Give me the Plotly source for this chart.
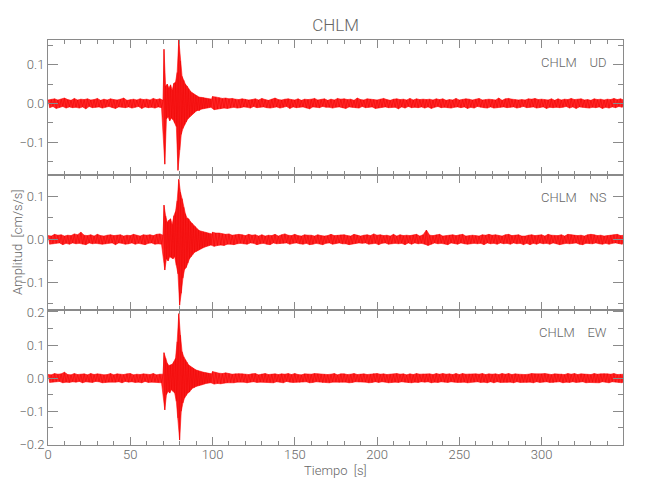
import numpy as np
import plotly.graph_objects as go

# ---- sampling of the three pieces of each trace: (start [s], step [s]) ----
SEG_START = [0.0, 70.0, 100.0]
SEG_STEP = [1.0, 0.5, 1.0]
UNIT = 1e-3  # values below are in thousandths of cm/s/s (positive = upper swing, negative = lower swing)

title = "CHLM"
components = ["UD", "NS", "EW"]
station = "CHLM"
x_title = "Tiempo\u00a0\u00a0[s]"
y_title = "Amplitud\u00a0\u00a0[cm/s/s]"

# ---------------- UD ----------------
ud_pre = [9,-11,10,-8,12,-13,9,-10,11,-8, 14,-12,10,-9,8,-11,13,-10,9,-12,
          11,-9,10,-14,12,-8,9,-11,10,-10, 13,-9,8,-12,11,-10,9,-8,12,-11,
          10,-13,9,-9,11,-10,14,-11,8,-9, 10,-12,11,-10,9,-8,12,-13,10,-9,
          11,-11,9,-10,13,-12,10,-9,12,-11]
ud_evt = [8,140,-157,45,-40,50,-35,40,-45,48,
          -38,35,-42,52,-50,55,-60,80,-173,165,
          -120,110,-80,70,-65,60,-55,50,-48,45,
          -40,38,-35,32,-30,28,-27,25,-24,22,
          -20,20,-18,17,-18,16,-15,16,-14,15,
          -13,14,-12,13,-12,12,-11,12,-10,11]
ud_post = [18,-16,17,-14,15,-14,13,-12,14,-13, 12,-11,13,-10,11,-12,10,-11,12,-9,
           11,-10,9,-12,10,-8,12,-11,9,-10, 13,-9,10,-11,8,-12,11,-10,14,-9,
           10,-12,9,-10,11,-8,12,-13,10,-9, 9,-11,12,-10,8,-9,11,-12,10,-14,
           11,-9,13,-10,9,-11,10,-8,12,-10, 8,-10,11,-12,9,-10,13,-9,11,-11,
           12,-13,10,-9,11,-10,8,-11,14,-12, 10,-8,9,-11,12,-10,11,-9,10,-13,
           9,-12,11,-10,13,-9,10,-11,8,-10, 11,-10,12,-14,10,-9,11,-12,9,-8,
           13,-11,9,-10,12,-11,10,-9,11,-12, 10,-9,11,-13,9,-10,12,-8,10,-11,
           12,-10,8,-11,10,-12,9,-10,13,-9, 9,-11,10,-9,12,-13,11,-10,9,-12,
           11,-8,13,-10,9,-11,10,-12,11,-9, 10,-12,9,-11,14,-10,8,-9,12,-11,
           13,-10,11,-9,10,-12,9,-11,10,-8, 9,-11,12,-10,11,-9,13,-12,10,-11,
           11,-9,10,-13,9,-10,12,-11,8,-10, 12,-11,9,-10,11,-8,10,-12,13,-9,
           10,-13,11,-9,12,-10,9,-11,10,-12, 8,-10,12,-11,10,-9,11,-13,9,-10,
           11,-12,10,-9,13,-11,10,-8,12,-10, 9]

# ---------------- NS ----------------
ns_pre = [9,-11,8,-10,12,-9,10,-8,11,-12, 8,-9,10,-11,9,-8,13,-10,11,-9,
          17,-11,10,-12,9,-8,11,-10,8,-9, 12,-10,9,-11,8,-10,10,-9,11,-8,
          9,-12,10,-8,11,-9,8,-11,10,-10, 9,-8,12,-11,10,-9,8,-10,11,-12,
          10,-9,11,-8,9,-11,12,-10,13,-11]
ns_evt = [10,80,-71,55,-45,40,-50,45,-40,48,
          -42,35,-45,55,-40,65,-60,90,-80,140,
          -153,110,-125,95,-90,75,-70,60,-65,50,
          -55,48,-45,42,-40,38,-35,32,-30,30,
          -28,25,-26,22,-24,20,-22,19,-20,18,
          -18,17,-16,16,-15,15,-14,14,-13,13]
ns_post = [17,-16,15,-14,15,-13,13,-14,12,-11, 13,-11,10,-12,11,-10,12,-9,11,-10,
           9,-11,12,-8,10,-9,11,-12,8,-10, 11,-9,8,-11,10,-12,9,-8,12,-10,
           8,-10,11,-9,13,-8,10,-11,9,-9, 12,-8,9,-10,8,-11,11,-9,10,-12,
           10,-11,8,-9,11,-10,9,-12,8,-9, 9,-8,12,-11,9,-9,10,-8,11,-10,
           11,-10,9,-12,8,-10,12,-9,10,-8, 8,-9,10,-8,11,-11,9,-10,13,-9,
           10,-12,11,-9,9,-8,10,-11,8,-10, 12,-9,8,-10,11,-9,9,-12,10,-8,
           9,-11,10,-8,12,-10,8,-9,11,-11, 22,-14,10,-11,9,-8,11,-10,12,-9,
           8,-10,9,-12,10,-8,11,-9,9,-11, 11,-8,12,-10,8,-11,9,-10,10,-9,
           9,-10,8,-9,11,-12,10,-8,12,-10, 10,-9,11,-11,9,-8,8,-10,11,-9,
           12,-11,9,-8,10,-10,11,-9,8,-12, 8,-9,10,-12,11,-9,9,-11,10,-8,
           11,-10,8,-9,12,-11,10,-8,9,-10, 9,-12,11,-10,8,-9,12,-10,11,-9,
           10,-8,9,-11,10,-12,8,-9,11,-10, 12,-10,11,-8,9,-10,10,-11,8,-9,
           9,-11,10,-9,11,-8,12,-10,9,-11, 10]

# ---------------- EW ----------------
ew_pre = [11,-13,10,-12,14,-11,12,-10,13,-14, 18,-12,11,-13,10,-11,14,-12,11,-10,
          12,-14,13,-11,10,-12,14,-13,11,-10, 13,-11,12,-14,10,-13,11,-12,14,-11,
          10,-12,13,-11,12,-14,11,-10,13,-12, 14,-11,10,-13,12,-12,11,-14,13,-10,
          12,-13,11,-12,14,-11,10,-13,12,-14]
ew_evt = [12,77,-96,60,-50,45,-40,38,-45,40,
          -35,42,-40,50,-45,60,-70,110,-120,195,
          -187,130,-100,80,-75,65,-60,55,-52,48,
          -45,40,-42,36,-35,32,-30,30,-28,26,
          -25,24,-23,22,-22,20,-21,19,-19,18,
          -18,17,-16,16,-15,15,-14,14,-14,13]
ew_post = [20,-18,17,-16,15,-17,14,-15,16,-14, 14,-13,12,-14,13,-12,14,-11,13,-12,
           12,-14,11,-12,13,-11,14,-13,10,-12, 13,-11,14,-12,11,-13,12,-14,13,-11,
           11,-12,13,-14,12,-10,14,-12,11,-13, 14,-12,11,-13,10,-12,13,-11,12,-14,
           12,-13,14,-11,13,-12,11,-14,12,-13, 11,-14,12,-12,14,-11,10,-13,13,-12,
           13,-12,11,-14,12,-13,14,-11,11,-12, 12,-11,13,-12,11,-14,12,-13,14,-11,
           14,-13,12,-11,13,-12,11,-14,12,-13, 11,-12,14,-13,12,-11,13,-12,10,-14,
           13,-14,11,-12,14,-13,12,-11,13,-12, 12,-11,13,-14,11,-12,14,-13,12,-11,
           14,-12,12,-13,13,-11,11,-12,14,-13, 11,-13,14,-12,12,-14,13,-11,12,-12,
           13,-11,12,-13,14,-12,11,-14,13,-11, 12,-14,13,-11,11,-13,14,-12,12,-13,
           14,-12,11,-14,13,-11,12,-13,11,-12, 11,-13,12,-12,14,-14,13,-11,12,-13,
           13,-12,14,-11,12,-13,11,-14,13,-12, 12,-11,13,-14,11,-12,14,-13,12,-11,
           14,-13,11,-12,13,-11,12,-14,11,-13, 11,-12,14,-13,12,-14,13,-11,14,-12,
           13,-14,12,-11,14,-12,11,-13,12,-14, 12]

x_range = [0, 349.5]
y_ranges = [[-0.185, 0.164], [-0.164, 0.150], [-0.202, 0.206]]
y_ticks = [[-0.1, 0.0, 0.1], [-0.1, 0.0, 0.1], [-0.2, -0.1, 0.0, 0.1, 0.2]]


def build(pre, evt, post):
    t, v = [], []
    for start, step, seg in zip(SEG_START, SEG_STEP, (pre, evt, post)):
        t.extend((start + step * np.arange(len(seg))).tolist())
        v.extend((np.array(seg, dtype=float) * UNIT).tolist())
    return np.array(t), np.array(v)


traces = [build(ud_pre, ud_evt, ud_post),
          build(ns_pre, ns_evt, ns_post),
          build(ew_pre, ew_evt, ew_post)]

FONT = "Roboto, Liberation Sans, sans-serif"
FW = 300
AXC = "#8a8a8a"
TXC = "#666666"

fig = go.Figure()
domains = [[2/3, 1.0], [1/3, 2/3], [0.0, 1/3]]

for i, (t, v) in enumerate(traces):
    n = "" if i == 0 else str(i + 1)
    up = v > 0
    lo = v < 0
    # band between the upper swings and the lower swings of the trace
    bx = np.concatenate([t[up], t[lo][::-1]])
    by = np.concatenate([v[up], v[lo][::-1]])
    fig.add_trace(go.Scatter(x=bx, y=by, mode="lines", fill="toself",
                             fillcolor="rgba(255,20,20,0.92)",
                             xaxis="x" + n, yaxis="y" + n,
                             line=dict(color="rgba(255,0,0,0.55)", width=1),
                             showlegend=False, hoverinfo="skip"))
    fig.add_trace(go.Scatter(x=t, y=v, mode="lines", xaxis="x" + n, yaxis="y" + n,
                             line=dict(color="rgba(235,0,0,0.8)", width=0.6),
                             showlegend=False, hoverinfo="skip"))
    fig.update_layout(**{
        "xaxis" + n: dict(domain=[0, 1], range=x_range, anchor="y" + n,
                          showline=True, linecolor=AXC, linewidth=1, mirror="ticks",
                          ticks="inside", ticklen=8, tickcolor=AXC, tickwidth=1,
                          tick0=0, dtick=50, showticklabels=(i == 2),
                          ticklabelstandoff=-3,
                          minor=dict(dtick=10, ticklen=4, ticks="inside", tickcolor=AXC),
                          showgrid=False, zeroline=False,
                          tickfont=dict(family=FONT, weight=FW, size=13, color=TXC)),
        "yaxis" + n: dict(domain=domains[i], range=y_ranges[i], anchor="x" + n,
                          showline=True, linecolor=AXC, linewidth=1, mirror="ticks",
                          ticks="inside", ticklen=10, tickcolor=AXC, tickwidth=1,
                          tickvals=y_ticks[i], tickformat=".1f",
                          minor=dict(dtick=0.05, tick0=0, ticklen=5, ticks="inside", tickcolor=AXC),
                          showgrid=False, zeroline=False,
                          tickfont=dict(family=FONT, weight=FW, size=13, color=TXC)),
    })
    fig.add_annotation(text=station + "\u00a0\u00a0\u00a0\u00a0" + components[i],
                       xref="x" + n + " domain", yref="y" + n + " domain",
                       x=0.975, y=0.835, xanchor="right", yanchor="middle",
                       showarrow=False, font=dict(family=FONT, weight=FW, size=13, color=TXC))

fig.add_annotation(text=y_title, xref="paper", yref="paper", x=-0.053, y=0.5,
                   textangle=-90, xanchor="center", yanchor="middle", showarrow=False,
                   font=dict(family=FONT, weight=FW, size=13, color=TXC))
fig.add_annotation(text=x_title, xref="paper", yref="paper", x=0.5, y=-0.062,
                   xanchor="center", yanchor="middle", showarrow=False,
                   font=dict(family=FONT, weight=FW, size=13, color=TXC))

# page body has an 8 px margin: figure is 642x492 so that the plot area sits at x 48..623, y 40..445
fig.update_layout(
    width=642, height=492,
    margin=dict(l=40, r=27, t=32, b=55),
    paper_bgcolor="white", plot_bgcolor="white",
    title=dict(text=title, x=0.5, xref="paper", y=1 - 17 / 492, yref="container",
               yanchor="middle",
               font=dict(family=FONT, weight=FW, size=17, color=TXC)),
)

fig.write_html("out.html")
